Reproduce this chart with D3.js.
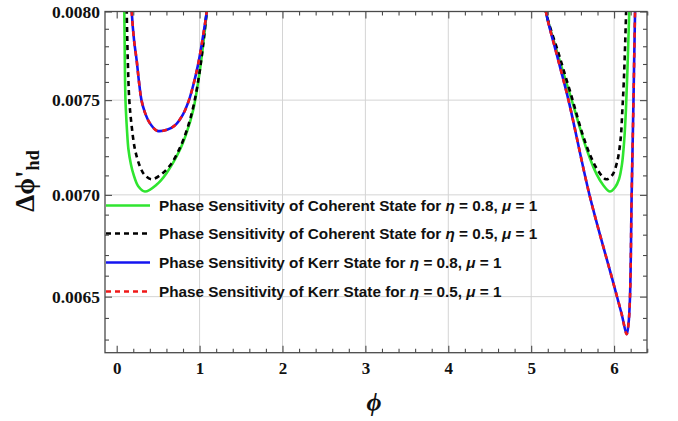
<!DOCTYPE html>
<html><head><meta charset="utf-8">
<script src="https://cdn.jsdelivr.net/npm/d3@7"></script>
<style>
html,body{margin:0;padding:0;background:#fff;}
svg{display:block;}
</style></head>
<body>
<svg id="chart" width="678" height="421"></svg>
<script>
// ---- data ----
const xTickValues = [0, 1, 2, 3, 4, 5, 6];
const xTickLabels = ["0", "1", "2", "3", "4", "5", "6"];
const yTickValues = [0.0065, 0.0070, 0.0075, 0.0080];
const yTickLabels = ["0.0065", "0.0070", "0.0075", "0.0080"];

// Coherent state, eta = 0.8 (green)
const coh08Phi = [0.085, 0.092, 0.098, 0.106, 0.124, 0.142, 0.172, 0.203, 0.26, 0.341, 0.4825, 0.603, 0.764, 0.848, 0.924, 0.987, 1.045, 1.086, 1.095, null,
  5.16, 5.178, 5.323, 5.489, 5.67, 5.79, 5.872, 5.95, 6.011, 6.059, 6.095, 6.123, 6.143, 6.161, 6.183, 6.19];
const coh08Val = [0.00812, 0.0080, 0.00772, 0.0075, 0.00734, 0.007235, 0.007157, 0.007105, 0.007044, 0.007017, 0.007053, 0.007113, 0.007235, 0.00733, 0.007448, 0.007612, 0.007817, 0.0080, 0.00805, null,
  0.00812, 0.0080, 0.007751, 0.0075, 0.007235, 0.007105, 0.007048, 0.007017, 0.007038, 0.00708, 0.007157, 0.007288, 0.007448, 0.007667, 0.0080, 0.0081];

// Coherent state, eta = 0.5 (black dashed)
const coh05Phi = [0.115, 0.121, 0.134, 0.152, 0.179, 0.221, 0.281, 0.341, 0.422, 0.522, 0.643, 0.764, 0.860, 0.932, 0.993, 1.041, 1.086, 1.095, null,
  5.16, 5.178, 5.336, 5.50, 5.613, 5.709, 5.806, 5.903, 5.975, 6.035, 6.078, 6.100, 6.118, 6.133, 6.145, 6.15];
const coh05Val = [0.00812, 0.0080, 0.00772, 0.0075, 0.007367, 0.007235, 0.007146, 0.0071, 0.00708, 0.0071, 0.007151, 0.007245, 0.007357, 0.00748, 0.007634, 0.007802, 0.0080, 0.00805, null,
  0.00812, 0.0080, 0.007751, 0.0075, 0.007325, 0.007208, 0.007125, 0.00708, 0.0071, 0.007167, 0.007288, 0.007448, 0.007612, 0.007808, 0.0080, 0.0081];

// Kerr state, eta = 0.8 (blue)
const kerr08Phi = [0.17, 0.181, 0.209, 0.241, 0.269, 0.299, 0.341, 0.396, 0.486, 0.607, 0.704, 0.80, 0.872, 0.932, 0.981, 1.029, 1.086, 1.095, null,
  5.16, 5.178, 5.31, 5.45, 5.703, 5.975, 6.089, 6.152, 6.174, 6.192, 6.212, 6.234, 6.253, 6.26];
const kerr08Val = [0.00812, 0.0080, 0.007836, 0.00772, 0.007601, 0.0075, 0.007432, 0.007378, 0.007335, 0.00734, 0.007364, 0.007423, 0.0075, 0.007597, 0.007695, 0.00782, 0.0080, 0.00805, null,
  0.00812, 0.0080, 0.007751, 0.0075, 0.0070, 0.006588, 0.006422, 0.006325, 0.006373, 0.0065, 0.0070, 0.0075, 0.0080, 0.0081];

// Kerr state, eta = 0.5 (red dashed) - coincides with eta = 0.8
const kerr05Phi = [0.17, 0.181, 0.209, 0.241, 0.269, 0.299, 0.341, 0.396, 0.486, 0.607, 0.704, 0.80, 0.872, 0.932, 0.981, 1.029, 1.086, 1.095, null,
  5.16, 5.178, 5.31, 5.45, 5.703, 5.975, 6.089, 6.152, 6.174, 6.192, 6.212, 6.234, 6.253, 6.26];
const kerr05Val = [0.00812, 0.0080, 0.007836, 0.00772, 0.007601, 0.0075, 0.007432, 0.007378, 0.007335, 0.00734, 0.007364, 0.007423, 0.0075, 0.007597, 0.007695, 0.00782, 0.0080, 0.00805, null,
  0.00812, 0.0080, 0.007751, 0.0075, 0.0070, 0.006588, 0.006422, 0.006325, 0.006373, 0.0065, 0.0070, 0.0075, 0.0080, 0.0081];

const seriesNames = ["Coherent", "Coherent", "Kerr", "Kerr"];
const seriesEta = ["0.8", "0.5", "0.8", "0.5"];

// ---- layout ----
const L = 105, R = 647, T = 11.5, B = 352.7;
const svg = d3.select("#chart");
const x = d3.scaleLinear().domain([-0.141, 6.397]).range([L, R]);
const y = d3.scaleLog().domain([0.00624, 0.008]).range([B, T]);

const gridColor = "#d4d4d4";
const frameColor = "#4a4a4a";

// grid
svg.append("g").selectAll("line").data(xTickValues.filter(v => v > 0)).join("line")
  .attr("x1", d => x(d)).attr("x2", d => x(d)).attr("y1", T).attr("y2", B)
  .attr("stroke", gridColor).attr("stroke-width", 1);
svg.append("g").selectAll("line").data(yTickValues.filter(v => v < 0.008)).join("line")
  .attr("x1", L).attr("x2", R).attr("y1", d => y(d)).attr("y2", d => y(d))
  .attr("stroke", gridColor).attr("stroke-width", 1);

// clip
svg.append("clipPath").attr("id", "clip").append("rect")
  .attr("x", L).attr("y", T).attr("width", R - L).attr("height", B - T);

const line = d3.line()
  .defined(d => d[1] != null)
  .x(d => x(d[0])).y(d => y(d[1]))
  .curve(d3.curveCatmullRom.alpha(0.5));
const zipS = (a, b) => a.map((v, i) => [v, b[i]]);

const series = [
  {phi: coh08Phi, val: coh08Val, color: "#2fe52f", dash: null, w: 2.6},
  {phi: coh05Phi, val: coh05Val, color: "#000000", dash: "5,4", w: 2.6},
  {phi: kerr08Phi, val: kerr08Val, color: "#1414f0", dash: null, w: 2.6},
  {phi: kerr05Phi, val: kerr05Val, color: "#f01818", dash: "5,5", w: 2.6}
];
const gCurves = svg.append("g").attr("clip-path", "url(#clip)");
series.forEach(s => {
  gCurves.append("path").datum(zipS(s.phi, s.val))
    .attr("d", line).attr("fill", "none")
    .attr("stroke", s.color).attr("stroke-width", s.w)
    .attr("stroke-dasharray", s.dash);
});

// legend
const legRows = [205.5, 233.5, 262.5, 291.5];
const gLeg = svg.append("g");
series.forEach((s, i) => {
  gLeg.append("line").attr("x1", L + 1).attr("x2", 150)
    .attr("y1", legRows[i]).attr("y2", legRows[i])
    .attr("stroke", s.color).attr("stroke-width", 2.6)
    .attr("stroke-dasharray", s.dash ? "5,4" : null);
  const t = gLeg.append("text").attr("x", 159).attr("y", legRows[i] + 5.3)
    .attr("font-family", "'Liberation Sans', Arial, sans-serif")
    .attr("font-weight", "bold").attr("font-size", "15.3px").attr("fill", "#111");
  t.append("tspan").text(`Phase Sensitivity of ${seriesNames[i]} State for `);
  t.append("tspan").attr("font-style", "italic").text("η");
  t.append("tspan").text(` = ${seriesEta[i]}, `);
  t.append("tspan").attr("font-style", "italic").text("μ");
  t.append("tspan").text(" = 1");
});

// frame
svg.append("rect").attr("x", L).attr("y", T).attr("width", R - L).attr("height", B - T)
  .attr("fill", "none").attr("stroke", frameColor).attr("stroke-width", 1.3);

// ticks
const xMinor = d3.range(0, 6.41, 0.2).filter(v => Math.abs(v - Math.round(v)) > 0.01);
const yMinor = d3.range(63, 80).map(v => v / 10000).filter(v => !yTickValues.some(t => Math.abs(t - v) < 1e-9));

const tickFont = "'Liberation Serif', 'Times New Roman', serif";
function styleAxis(g) {
  g.select(".domain").remove();
  g.selectAll(".tick line").attr("stroke", frameColor).attr("stroke-width", 1.1);
  g.selectAll(".tick text").attr("font-family", tickFont).attr("font-weight", "bold")
    .attr("fill", "#111");
}
// bottom
svg.append("g").attr("transform", `translate(0,${B})`)
  .call(d3.axisBottom(x).tickValues(xTickValues).tickFormat((d, i) => xTickLabels[i]).tickSize(-7).tickPadding(9))
  .call(styleAxis).call(g => g.selectAll("text").attr("font-size", "17px"));
svg.append("g").attr("transform", `translate(0,${B})`)
  .call(d3.axisBottom(x).tickValues(xMinor).tickFormat("").tickSize(-4)).call(styleAxis);
// top
svg.append("g").attr("transform", `translate(0,${T})`)
  .call(d3.axisTop(x).tickValues(xTickValues).tickFormat("").tickSize(-7)).call(styleAxis);
svg.append("g").attr("transform", `translate(0,${T})`)
  .call(d3.axisTop(x).tickValues(xMinor).tickFormat("").tickSize(-4)).call(styleAxis);
// left
svg.append("g").attr("transform", `translate(${L},0)`)
  .call(d3.axisLeft(y).tickValues(yTickValues).tickFormat((d, i) => yTickLabels[i]).tickSize(-7).tickPadding(5))
  .call(styleAxis).call(g => g.selectAll("text").attr("font-size", "17.5px"));
svg.append("g").attr("transform", `translate(${L},0)`)
  .call(d3.axisLeft(y).tickValues(yMinor).tickFormat("").tickSize(-4)).call(styleAxis);
// right
svg.append("g").attr("transform", `translate(${R},0)`)
  .call(d3.axisRight(y).tickValues(yTickValues).tickFormat("").tickSize(-7)).call(styleAxis);
svg.append("g").attr("transform", `translate(${R},0)`)
  .call(d3.axisRight(y).tickValues(yMinor).tickFormat("").tickSize(-4)).call(styleAxis);

// axis titles
svg.append("text").attr("x", 374).attr("y", 411)
  .attr("text-anchor", "middle").attr("font-family", tickFont)
  .attr("font-style", "italic").attr("font-weight", "bold").attr("font-size", "26px")
  .attr("fill", "#111").text("ϕ");

const yt = svg.append("text").attr("transform", "translate(34,181) rotate(-90)")
  .attr("text-anchor", "middle").attr("font-family", tickFont)
  .attr("font-weight", "bold").attr("font-size", "27px").attr("fill", "#111");
yt.append("tspan").text("Δϕ'");
yt.append("tspan").attr("font-size", "18px").attr("dy", "5").text("hd");
</script>
</body></html>
